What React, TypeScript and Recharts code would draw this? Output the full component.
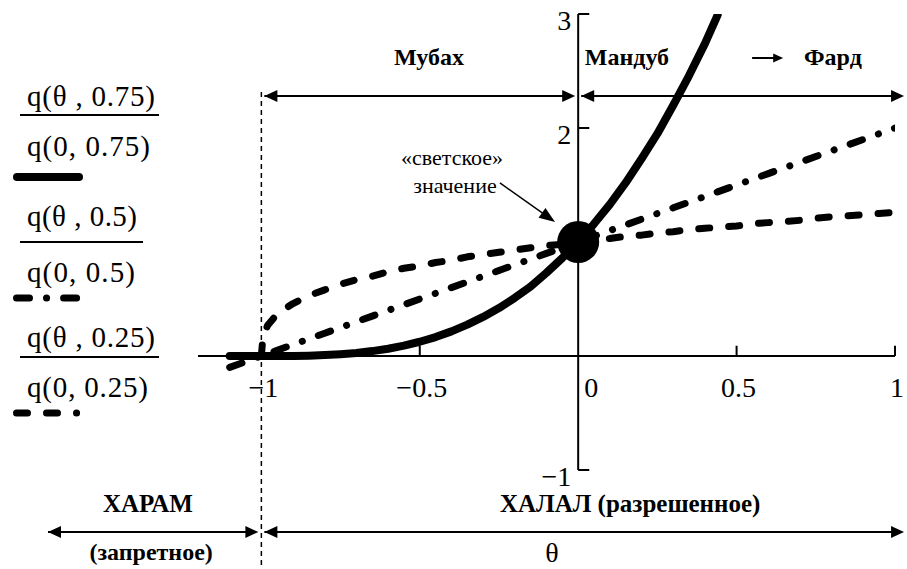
import React from 'react';
import { LineChart, Line, XAxis, YAxis, ReferenceLine, ReferenceDot } from 'recharts';

// theta grid and the three normalised curves
const theta = [
  -1.1, -1.05, -1, -0.995, -0.98, -0.95, -0.9, -0.85, -0.8, -0.75, -0.7, -0.65, -0.6, -0.55, -0.5,
  -0.45, -0.4, -0.35, -0.3, -0.25, -0.2, -0.15, -0.1, -0.05, 0, 0.05, 0.1, 0.15, 0.2, 0.25, 0.3,
  0.35, 0.4, 0.44, 0.5, 0.55, 0.6, 0.65, 0.7, 0.75, 0.8, 0.85, 0.9, 0.95, 1,
];
const q75 = [
  0, 0, 0, 0, 0, 0, 0, 0.003, 0.008, 0.016, 0.027, 0.043, 0.064, 0.091, 0.125,
  0.166, 0.216, 0.275, 0.343, 0.42, 0.51, 0.61, 0.73, 0.86, 1, 1.16, 1.33, 1.52, 1.73, 1.95, 2.2,
  2.46, 2.74, 2.99, null, null, null, null, null, null, null, null, null, null, null,
];
const q50 = [
  -0.1, -0.05, 0, 0.005, 0.02, 0.05, 0.1, 0.15, 0.2, 0.25, 0.3, 0.35, 0.4, 0.45, 0.5,
  0.55, 0.6, 0.65, 0.7, 0.75, 0.8, 0.85, 0.9, 0.95, 1, 1.05, 1.1, 1.15, 1.2, 1.25, 1.3,
  1.35, 1.4, 1.44, 1.5, 1.55, 1.6, 1.65, 1.7, 1.75, 1.8, 1.85, 1.9, 1.95, 2,
];
const q25 = [
  null, null, 0, 0.17, 0.27, 0.37, 0.46, 0.53, 0.58, 0.63, 0.67, 0.7, 0.74, 0.77, 0.79,
  0.82, 0.84, 0.87, 0.89, 0.91, 0.93, 0.95, 0.97, 0.98, 1, 1.02, 1.03, 1.05, 1.06, 1.08, 1.09,
  1.11, 1.12, 1.13, 1.14, 1.16, 1.17, 1.18, 1.19, 1.21, 1.22, 1.23, 1.24, 1.25, 1.26,
];

const xTickValues = [-1, -0.5, 0.5, 1];
const xTickLabels = ['−1', '−0.5', '0', '0.5', '1'];
const xLabelValues = [-1, -0.5, 0, 0.5, 1];
const yTickValues = [-1, 0, 1, 2, 3];
const yLabelValues = [3, 2, -1];
const yTickLabels = ['3', '2', '−1'];

const data = theta.map((t, i) => ({ theta: t, q75: q75[i], q50: q50[i], q25: q25[i] }));

const FONT = "'Liberation Serif', 'Times New Roman', Times, serif";

// text / arrow annotations placed in data coordinates
const notes = [
  { x: -0.471, y: 2.553, text: 'Мубах', size: 24, bold: true },
  { x: 0.154, y: 2.553, text: 'Мандуб', size: 24, bold: true },
  { x: 0.804, y: 2.553, text: 'Фард', size: 24, bold: true },
  { x: -0.398, y: 1.675, text: '«светское»', size: 22, bold: false },
  { x: -0.389, y: 1.43, text: 'значение', size: 22, bold: false },
  { x: -1.358, y: -1.368, text: 'ХАРАМ', size: 25, bold: true },
  { x: -1.348, y: -1.789, text: '(запретное)', size: 24, bold: true },
  { x: 0.164, y: -1.368, text: 'ХАЛАЛ (разрешенное)', size: 25, bold: true },
  { x: -0.083, y: -1.807, text: 'θ', size: 28, bold: false },
];

const arrows = [
  { from: { x: -1, y: 2.28 }, to: { x: 0, y: 2.28 }, both: true, w: 2, gap: 3, L: 13, W: 6 },
  { from: { x: 0, y: 2.28 }, to: { x: 1.038, y: 2.28 }, both: true, w: 2, gap: 3, L: 13, W: 6 },
  { from: { x: -1.683, y: -1.544 }, to: { x: -1, y: -1.544 }, both: true, w: 2, gap: 3, L: 13, W: 6 },
  { from: { x: -1, y: -1.544 }, to: { x: 1.038, y: -1.544 }, both: true, w: 2, gap: 3, L: 13, W: 6 },
  { from: { x: -0.247, y: 1.518 }, to: { x: -0.073, y: 1.175 }, both: false, w: 1.5, gap: 0, L: 16, W: 6 },
  { from: { x: 0.549, y: 2.614 }, to: { x: 0.647, y: 2.614 }, both: false, w: 2, gap: 0, L: 10, W: 4.5 },
];

const head = (tx: number, ty: number, ux: number, uy: number, L: number, W: number) => {
  const bx = tx - ux * L;
  const by = ty - uy * L;
  return `${tx},${ty} ${bx - uy * W},${by + ux * W} ${bx + uy * W},${by - ux * W}`;
};

const arrowShape = (both: boolean, w: number, gap: number, L: number, W: number) => (p: any) => {
  const { x1, y1, x2, y2 } = p;
  const len = Math.hypot(x2 - x1, y2 - y1) || 1;
  const ux = (x2 - x1) / len;
  const uy = (y2 - y1) / len;
  const ax = x1 + ux * gap;
  const ay = y1 + uy * gap;
  const bx = x2 - ux * gap;
  const by = y2 - uy * gap;
  return (
    <g>
      <line x1={ax} y1={ay} x2={bx - ux * 4} y2={by - uy * 4} stroke="#000" strokeWidth={w} />
      {both && <polygon points={head(ax, ay, -ux, -uy, L, W)} fill="#000" />}
      <polygon points={head(bx, by, ux, uy, L, W)} fill="#000" />
    </g>
  );
};

const textShape = (text: string, size: number, bold: boolean, dx = 0, dy = 0, anchor = 'middle') => (p: any) => (
  <text
    x={p.cx + dx}
    y={p.cy + dy}
    textAnchor={anchor}
    style={{ fontFamily: FONT, fontSize: size, fontWeight: bold ? 700 : 400 }}
    fill="#000"
  >
    {text}
  </text>
);

const Legend: React.FC = () => (
  <svg width={200} height={440} style={{ position: 'absolute', left: 0, top: 0, fontFamily: FONT, fontSize: 29 }}>
    <text x={27} y={106} textLength={128} lengthAdjust="spacing">q(θ , 0.75)</text>
    <line x1={20} x2={159} y1={115} y2={115} stroke="#000" strokeWidth={2} />
    <text x={27} y={156} textLength={123} lengthAdjust="spacing">q(0, 0.75)</text>
    <line x1={17} x2={79} y1={177} y2={177} stroke="#000" strokeWidth={8} strokeLinecap="round" />

    <text x={27} y={226} textLength={110} lengthAdjust="spacing">q(θ , 0.5)</text>
    <line x1={20} x2={143} y1={242} y2={242} stroke="#000" strokeWidth={2} />
    <text x={27} y={282} textLength={108} lengthAdjust="spacing">q(0, 0.5)</text>
    <line x1={16.5} x2={76.6} y1={298} y2={298} stroke="#000" strokeWidth={7} strokeLinecap="round" strokeDasharray="13 17 0.1 17" />

    <text x={27} y={347} textLength={128} lengthAdjust="spacing">q(θ , 0.25)</text>
    <line x1={20} x2={159} y1={357} y2={357} stroke="#000" strokeWidth={2} />
    <text x={27} y={397} textLength={121} lengthAdjust="spacing">q(0, 0.25)</text>
    <line x1={16.5} x2={76.6} y1={413} y2={413} stroke="#000" strokeWidth={7} strokeLinecap="round" strokeDasharray="11 19" />
  </svg>
);

export default function App() {
  return (
    <div style={{ position: 'relative', width: 907, height: 569, background: '#fff', fontFamily: FONT }}>
      <style>{'body{margin:0}'}</style>
      <LineChart width={907} height={569} data={data} margin={{ top: 14, right: 12, bottom: 99, left: 198 }}>
        <XAxis dataKey="theta" type="number" domain={[-1.2, 1]} allowDataOverflow hide />
        <YAxis type="number" domain={[-1, 3]} allowDataOverflow hide />

        <ReferenceLine
          segment={[{ x: -1, y: 2.316 }, { x: -1, y: -1.87 }]}
          stroke="#000"
          strokeWidth={1.5}
          strokeDasharray="5 4"
          ifOverflow="visible"
        />
        <ReferenceLine y={0} stroke="#000" strokeWidth={2} />
        <ReferenceLine x={0} stroke="#000" strokeWidth={2} />
        {xTickValues.map((v) => (
          <ReferenceLine key={`xt${v}`} segment={[{ x: v, y: 0 }, { x: v, y: 0.09 }]} stroke="#000" strokeWidth={2} ifOverflow="visible" />
        ))}
        {yTickValues.map((v) => (
          <ReferenceLine
            key={`yt${v}`}
            segment={[{ x: v === 0 ? -0.03 : 0, y: v }, { x: 0.035, y: v }]}
            stroke="#000"
            strokeWidth={2}
            ifOverflow="visible"
          />
        ))}

        <Line type="linear" dataKey="q25" stroke="#000" strokeWidth={7} strokeLinecap="round" strokeLinejoin="round" strokeDasharray="11 19" dot={false} isAnimationActive={false} />
        <Line type="linear" dataKey="q50" stroke="#000" strokeWidth={7} strokeLinecap="round" strokeLinejoin="round" strokeDasharray="13 17 0.1 17" dot={false} isAnimationActive={false} />
        <Line type="linear" dataKey="q75" stroke="#000" strokeWidth={8} strokeLinecap="round" strokeLinejoin="round" dot={false} isAnimationActive={false} />

        <ReferenceDot x={0} y={1} r={21} fill="#000" stroke="none" ifOverflow="visible" />

        {xLabelValues.map((v, i) => (
          <ReferenceDot
            key={`xl${v}`}
            x={v}
            y={0}
            r={0}
            ifOverflow="visible"
            shape={textShape(xTickLabels[i], 28, false, v === 0 ? 13 : 2, 41)}
          />
        ))}
        {yLabelValues.map((v, i) => (
          <ReferenceDot
            key={`yl${v}`}
            x={0}
            y={v}
            r={0}
            ifOverflow="visible"
            shape={textShape(yTickLabels[i], 28, false, -7, 16, 'end')}
          />
        ))}

        {arrows.map((a, i) => (
          <ReferenceLine
            key={`ar${i}`}
            segment={[a.from, a.to]}
            ifOverflow="visible"
            shape={arrowShape(a.both, a.w, a.gap, a.L, a.W)}
          />
        ))}
        {notes.map((n, i) => (
          <ReferenceDot key={`n${i}`} x={n.x} y={n.y} r={0} ifOverflow="visible" shape={textShape(n.text, n.size, n.bold)} />
        ))}
      </LineChart>
      <Legend />
    </div>
  );
}
